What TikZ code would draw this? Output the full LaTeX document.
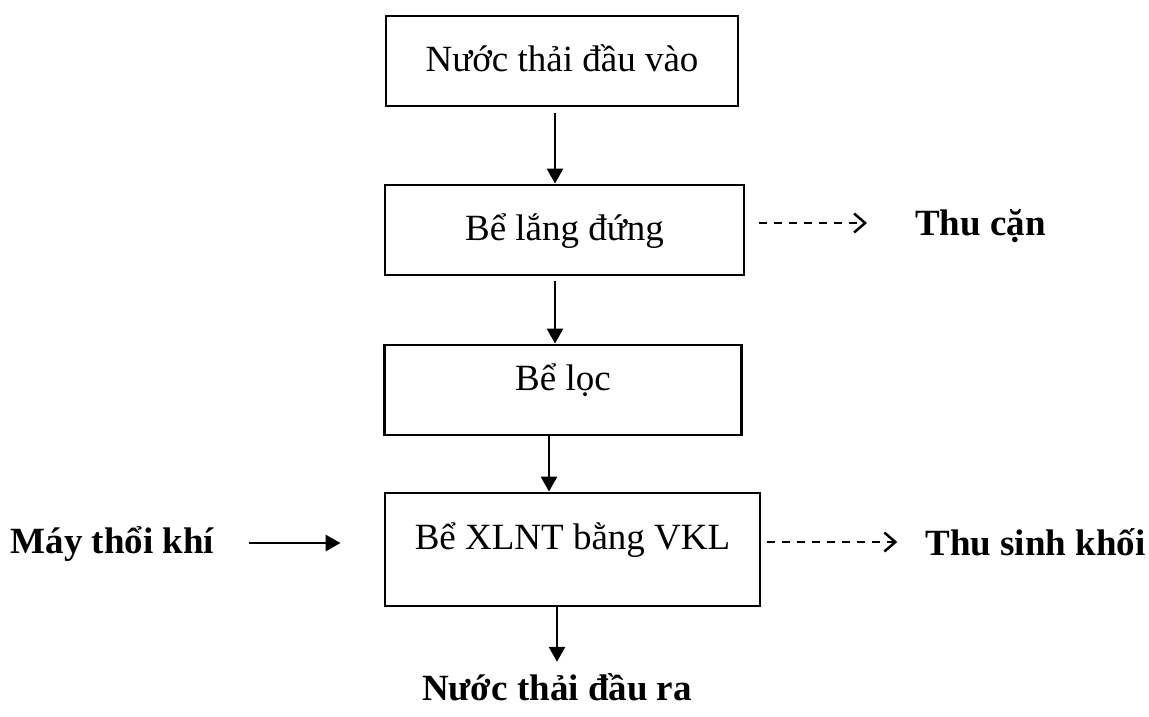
\documentclass[tikz,border=0pt]{standalone}
\usepackage{fontspec}
\setmainfont{Liberation Serif}
\usetikzlibrary{arrows.meta}

\begin{document}
\begin{tikzpicture}[x=1pt, y=-1pt, font=\fontsize{37}{44}\selectfont,
    stage/.style={draw, line width=2.9pt, minimum height=90pt},
    lbl/.style={anchor=base, inner sep=0pt, font=\fontsize{37}{44}\selectfont\bfseries},
    flow/.style={line width=2.9pt, -{Triangle[length=15pt,width=16pt]}},
    waste/.style={line width=2.5pt, dash pattern=on 8pt off 7pt,
      -{Straight Barb[length=11pt,width=19pt,line width=2.5pt]}}]
            \useasboundingbox (0,0) rectangle (1149,716);

            \node[stage, minimum width=352pt, text height=26pt, text depth=6pt] (b1) at (562,61) {Nước thải đầu vào};
            \node[stage, minimum width=359pt, text height=26pt, text depth=6pt] (b2) at (564.5,230) {Bể lắng đứng};
            \node[stage, minimum width=357pt, text height=14pt, text depth=14pt] (b3) at (563,390) {Bể lọc};
            \node[stage, minimum width=375pt, minimum height=113pt, text height=14pt, text depth=14pt] (b4) at (572.5,549.5) {Bể XLNT bằng VKL};

            \node[lbl] (in1) at (112.5,553) {Máy thổi khí};
            \node[lbl, text height=27pt] (out1) at (557,700) {Nước thải đầu ra};
            \node[lbl] (s1) at (980.5,235) {Thu cặn};
            \node[lbl] (s2) at (1035.5,555) {Thu sinh khối};

            \draw[flow] ([xshift=-7pt,yshift=-6pt]b1.south) to ([xshift=-9.5pt]b2.north);
            \draw[flow] ([xshift=-9.5pt,yshift=-5pt]b2.south) to ([xshift=-8pt]b3.north);
            \draw[flow] ([xshift=-14pt]b3.south) to ([xshift=-23.5pt]b4.north);
            \draw[flow] ([xshift=-15.5pt]b4.south) to ([yshift=11pt]out1.north);
            \draw[flow] ([xshift=35pt,yshift=6.5pt]b4.west -| in1.east) to ([xshift=-43pt,yshift=6.5pt]b4.west);

            \draw[waste] ([xshift=14pt,yshift=7pt]b2.east) to ([xshift=-48pt,yshift=7pt]b2.east -| s1.west);
            \draw[waste] ([xshift=6pt,yshift=7.5pt]b4.east) to ([xshift=-28pt,yshift=7.5pt]b4.east -| s2.west);
        \end{tikzpicture}
\end{document}
